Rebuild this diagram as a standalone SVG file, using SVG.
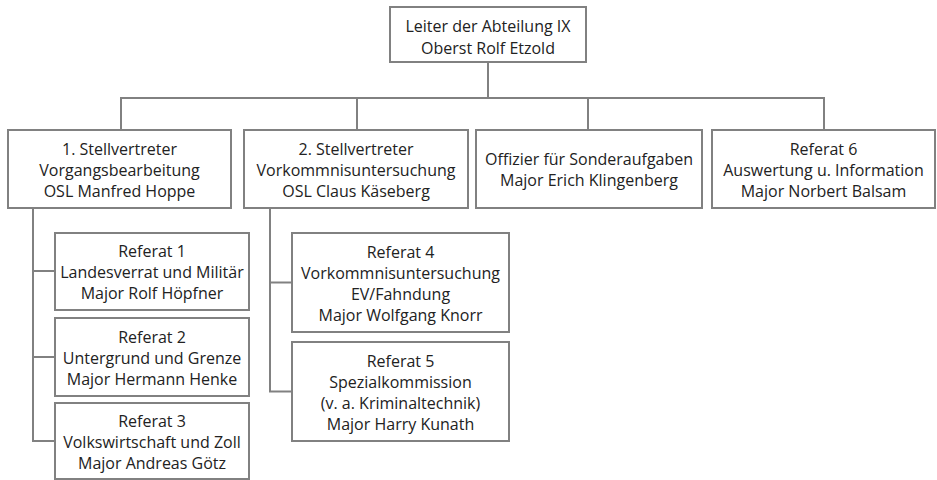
<svg xmlns="http://www.w3.org/2000/svg" width="937" height="480" viewBox="0 0 937 480">
<style>
.box{fill:#fff;stroke:#818181;stroke-width:2}
.con{fill:none;stroke:#818181;stroke-width:2}
text{font-family:"Open Sans","Noto Sans","Liberation Sans",sans-serif;font-size:16px;fill:#222;text-anchor:middle}
</style>
<rect width="937" height="480" fill="#fff"/>
<g id="connectors">
<path class="con" d="M488 62V98M121 130V98H824V130M357 98V130M588 98V130"/>
<path class="con" d="M33 208V441H55M33 271H55M33 357H55"/>
<path class="con" d="M270 208V391.5H292M270 282.5H292"/>
</g>
<g id="leiter">
<rect class="box" x="390" y="7" width="196" height="55"/>
<text x="488" y="32">Leiter der Abteilung IX</text>
<text x="488" y="54">Oberst Rolf Etzold</text>
</g>
<g id="stv1">
<rect class="box" x="8" y="130" width="223" height="78"/>
<text x="119.5" y="154.5">1. Stellvertreter</text>
<text x="119.5" y="175.5">Vorgangsbearbeitung</text>
<text x="119.5" y="196.5">OSL Manfred Hoppe</text>
</g>
<g id="stv2">
<rect class="box" x="244" y="130" width="224" height="78"/>
<text x="356" y="154.5">2. Stellvertreter</text>
<text x="356" y="175.5">Vorkommnisuntersuchung</text>
<text x="356" y="196.5">OSL Claus Käseberg</text>
</g>
<g id="offizier">
<rect class="box" x="476" y="130" width="226" height="78"/>
<text x="589" y="165">Offizier für Sonderaufgaben</text>
<text x="589" y="186">Major Erich Klingenberg</text>
</g>
<g id="referat6">
<rect class="box" x="712" y="130" width="223" height="78"/>
<text x="823.5" y="154.5">Referat 6</text>
<text x="823.5" y="175.5">Auswertung u. Information</text>
<text x="823.5" y="196.5">Major Norbert Balsam</text>
</g>
<g id="referat1">
<rect class="box" x="55" y="233" width="194" height="77"/>
<text x="152" y="257">Referat 1</text>
<text x="152" y="278">Landesverrat und Militär</text>
<text x="152" y="299">Major Rolf Höpfner</text>
</g>
<g id="referat2">
<rect class="box" x="55" y="318" width="194" height="78"/>
<text x="152" y="342.5">Referat 2</text>
<text x="152" y="363.5">Untergrund und Grenze</text>
<text x="152" y="384.5">Major Hermann Henke</text>
</g>
<g id="referat3">
<rect class="box" x="55" y="403" width="194" height="76"/>
<text x="152" y="426.5">Referat 3</text>
<text x="152" y="447.5">Volkswirtschaft und Zoll</text>
<text x="152" y="468.5">Major Andreas Götz</text>
</g>
<g id="referat4">
<rect class="box" x="292" y="233" width="217" height="99"/>
<text x="400.5" y="257.5">Referat 4</text>
<text x="400.5" y="278.5">Vorkommnisuntersuchung</text>
<text x="400.5" y="299.5">EV/Fahndung</text>
<text x="400.5" y="320.5">Major Wolfgang Knorr</text>
</g>
<g id="referat5">
<rect class="box" x="292" y="342" width="217" height="99"/>
<text x="400.5" y="366.5">Referat 5</text>
<text x="400.5" y="387.5">Spezialkommission</text>
<text x="400.5" y="408.5">(v. a. Kriminaltechnik)</text>
<text x="400.5" y="429.5">Major Harry Kunath</text>
</g>
</svg>
